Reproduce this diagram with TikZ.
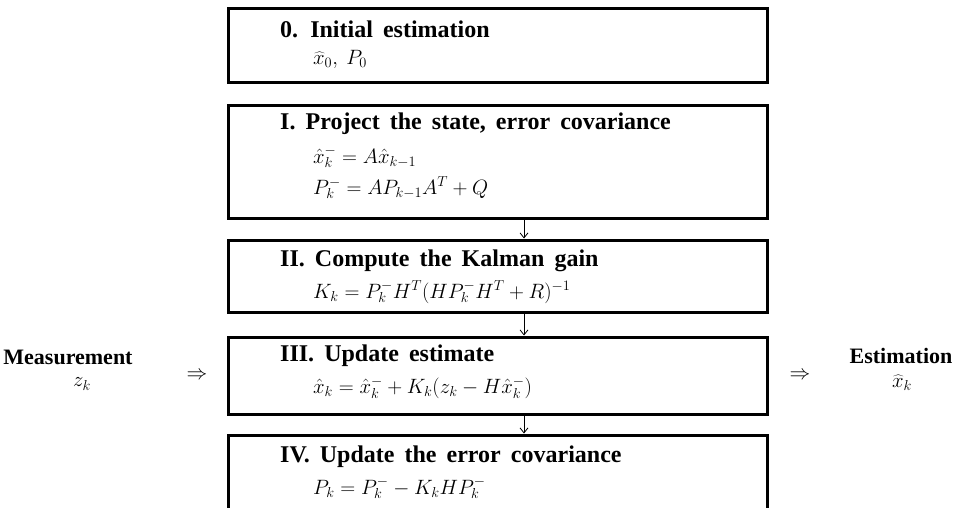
\documentclass[tikz,border=0pt]{standalone}
\usepackage{fontspec}
\setmainfont{Liberation Serif}
\usetikzlibrary{arrows.meta}
\newcommand\widewordgap{\spaceskip=0.42em plus 0.1em\relax}
\tikzset{
  stage/.style={draw=black, line width=3pt, minimum width=539pt, inner sep=0pt},
  title/.style={anchor=west, font=\fontsize{24}{28}\selectfont\bfseries\widewordgap, inner sep=0pt},
  formula/.style={anchor=west, font=\fontsize{20}{24}\selectfont, inner sep=0pt},
  side/.style={font=\fontsize{22}{26}\selectfont\bfseries, inner sep=0pt},
  flow/.style={-{Straight Barb[length=5pt,width=8pt]}, line width=0.8pt},
}
\begin{document}
\begin{tikzpicture}[x=1pt,y=-1pt]
\clip (0,0) rectangle (965,507);
\fill[white] (0,0) rectangle (965,507);

% stage boxes
\node[stage, minimum height=74pt]  (s0)   at (497.5,45)   {};
\node[stage, minimum height=113pt] (s1)   at (497.5,161.5){};
\node[stage, minimum height=72pt]  (s2)   at (497.5,276)  {};
\node[stage, minimum height=77pt]  (s3)   at (497.5,375.5){};
\node[stage, minimum height=95pt]  (s4)   at (497.5,482.5){};

% stage 0
\node[title]   (t0)  at (280,29)  {0. Initial estimation};
\node[formula] (f0)  at (313,59)  {$\widehat{x}_0,\ P_0$};

% stage I
\node[title]   (t1)  at (280,124) {I. Project the state, error covariance};
\node[formula] (f1a) at (313,157) {$\hat{x}_k^- = A\hat{x}_{k-1}$};
\node[formula] (f1b) at (313,188) {$P_k^- = AP_{k-1}A^T + Q$};

% stage II
\node[title]   (t2)  at (280,261) {II. Compute the Kalman gain};
\node[formula] (f2)  at (313,292) {$K_k = P_k^- H^T(HP_k^- H^T + R)^{-1}$};

% stage III
\node[title]   (t3)  at (280,356) {III. Update estimate};
\node[formula] (f3)  at (313,388) {$\hat{x}_k = \hat{x}_k^- + K_k(z_k - H\hat{x}_k^-)$};

% stage IV
\node[title]   (t4)  at (280,457) {IV. Update the error covariance};
\node[formula] (f4)  at (313,488) {$P_k = P_k^- - K_kHP_k^-$};

% flow between stages
\draw[flow] ([xshift=26.5pt]s1.south) -- ([xshift=26.5pt]s2.north);
\draw[flow] ([xshift=26.5pt]s2.south) -- ([xshift=26.5pt]s3.north);
\draw[flow] ([xshift=26.5pt]s3.south) -- ([xshift=26.5pt]s4.north);

% measurement input and estimate output
\node[side] (meas) at (68,357) {Measurement};
\node[formula, anchor=center] (zk) at (82,384) {$z_k$};
\node[formula, anchor=center] (in) at (197,376) {$\Rightarrow$};
\node[formula, anchor=center] (out) at (800,376) {$\Rightarrow$};
\node[side] (est) at (901,356) {Estimation};
\node[formula, anchor=center] (xk) at (902,383) {$\widehat{x}_k$};
\end{tikzpicture}
\end{document}
